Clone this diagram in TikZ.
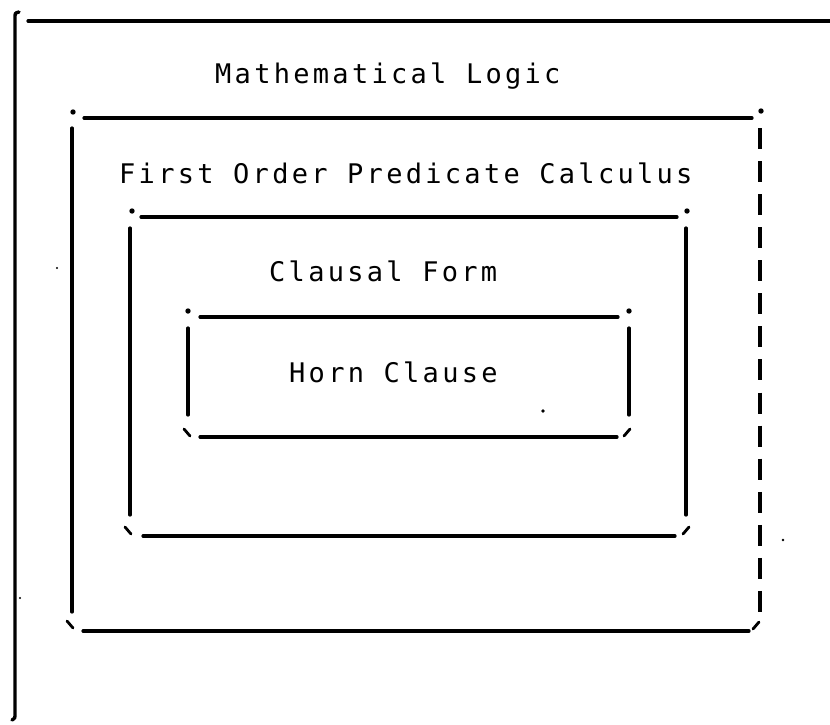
\documentclass[tikz,border=0pt]{standalone}
\usepackage{fontspec}
\setmonofont[LetterSpace=12.2]{DejaVu Sans Mono}
\tikzset{
  frame/.style={line width=3.2pt, line cap=round},
  ticks/.style={line width=2.8pt, line cap=round},
  dashedge/.style={line width=3.2pt, dash pattern=on 21pt off 12.07pt},
  lbl/.style={font=\ttfamily\fontsize{27}{27}\selectfont, inner sep=0pt, anchor=base west},
}
\begin{document}
\begin{tikzpicture}[x=1pt, y=-1pt]
  \fill[white] (0,0) rectangle (830,724);
  \useasboundingbox (0,0) rectangle (830,724);
  % outer frame
  \draw[frame, line width=3.4pt] (19,12) .. controls (15,13) .. (15,18) -- (15,714) .. controls (15,718) .. (12,720);
  \draw[frame] (28,21) -- (830,21);
  % box 1 (Mathematical Logic)
  \fill (73,112) circle (2.7pt);
  \draw[frame] (84,118) -- (752,118);
  \fill (761,111) circle (2.7pt);
  \draw[frame] (72,128) -- (72,612);
  \draw[dashedge] (760,128) -- (760,612);
  \draw[ticks] (67,621) -- (73,628);
  \draw[frame] (83,631) -- (749,631);
  \draw[ticks] (753,629) -- (759,622);
  % box 2 (First Order Predicate Calculus)
  \fill (132,211) circle (2.7pt);
  \draw[frame] (141,217) -- (677,217);
  \fill (687,211) circle (2.7pt);
  \draw[frame] (130,228) -- (130,515);
  \draw[frame] (686,228) -- (686,515);
  \draw[ticks] (125,527) -- (131,534);
  \draw[frame] (143,536) -- (675,536);
  \draw[ticks] (683,534) -- (689,527);
  % box 3 (Clausal Form)
  \fill (188,311) circle (2.7pt);
  \draw[frame] (200,317) -- (618,317);
  \fill (629,311) circle (2.7pt);
  \draw[frame] (188,328) -- (188,415);
  \draw[frame] (629,328) -- (629,415);
  \draw[ticks] (184,429) -- (190,436);
  \draw[frame] (200,437) -- (617,437);
  \draw[ticks] (624,436) -- (630,429);
  % labels
  \node[lbl] (ml) at (215,83) {Mathematical Logic};
  \node[lbl] (fo) at (119,183) {First Order Predicate Calculus};
  \node[lbl] (cf) at (269,281) {Clausal Form};
  \node[lbl] (hc) at (289,382) {Horn Clause};
  % specks
  \fill (543,411) circle (1.8pt);
  \fill (783,540) circle (1.3pt);
  \fill (20,598) circle (1.2pt);
  \fill (57,268) circle (1.2pt);
\end{tikzpicture}
\end{document}
